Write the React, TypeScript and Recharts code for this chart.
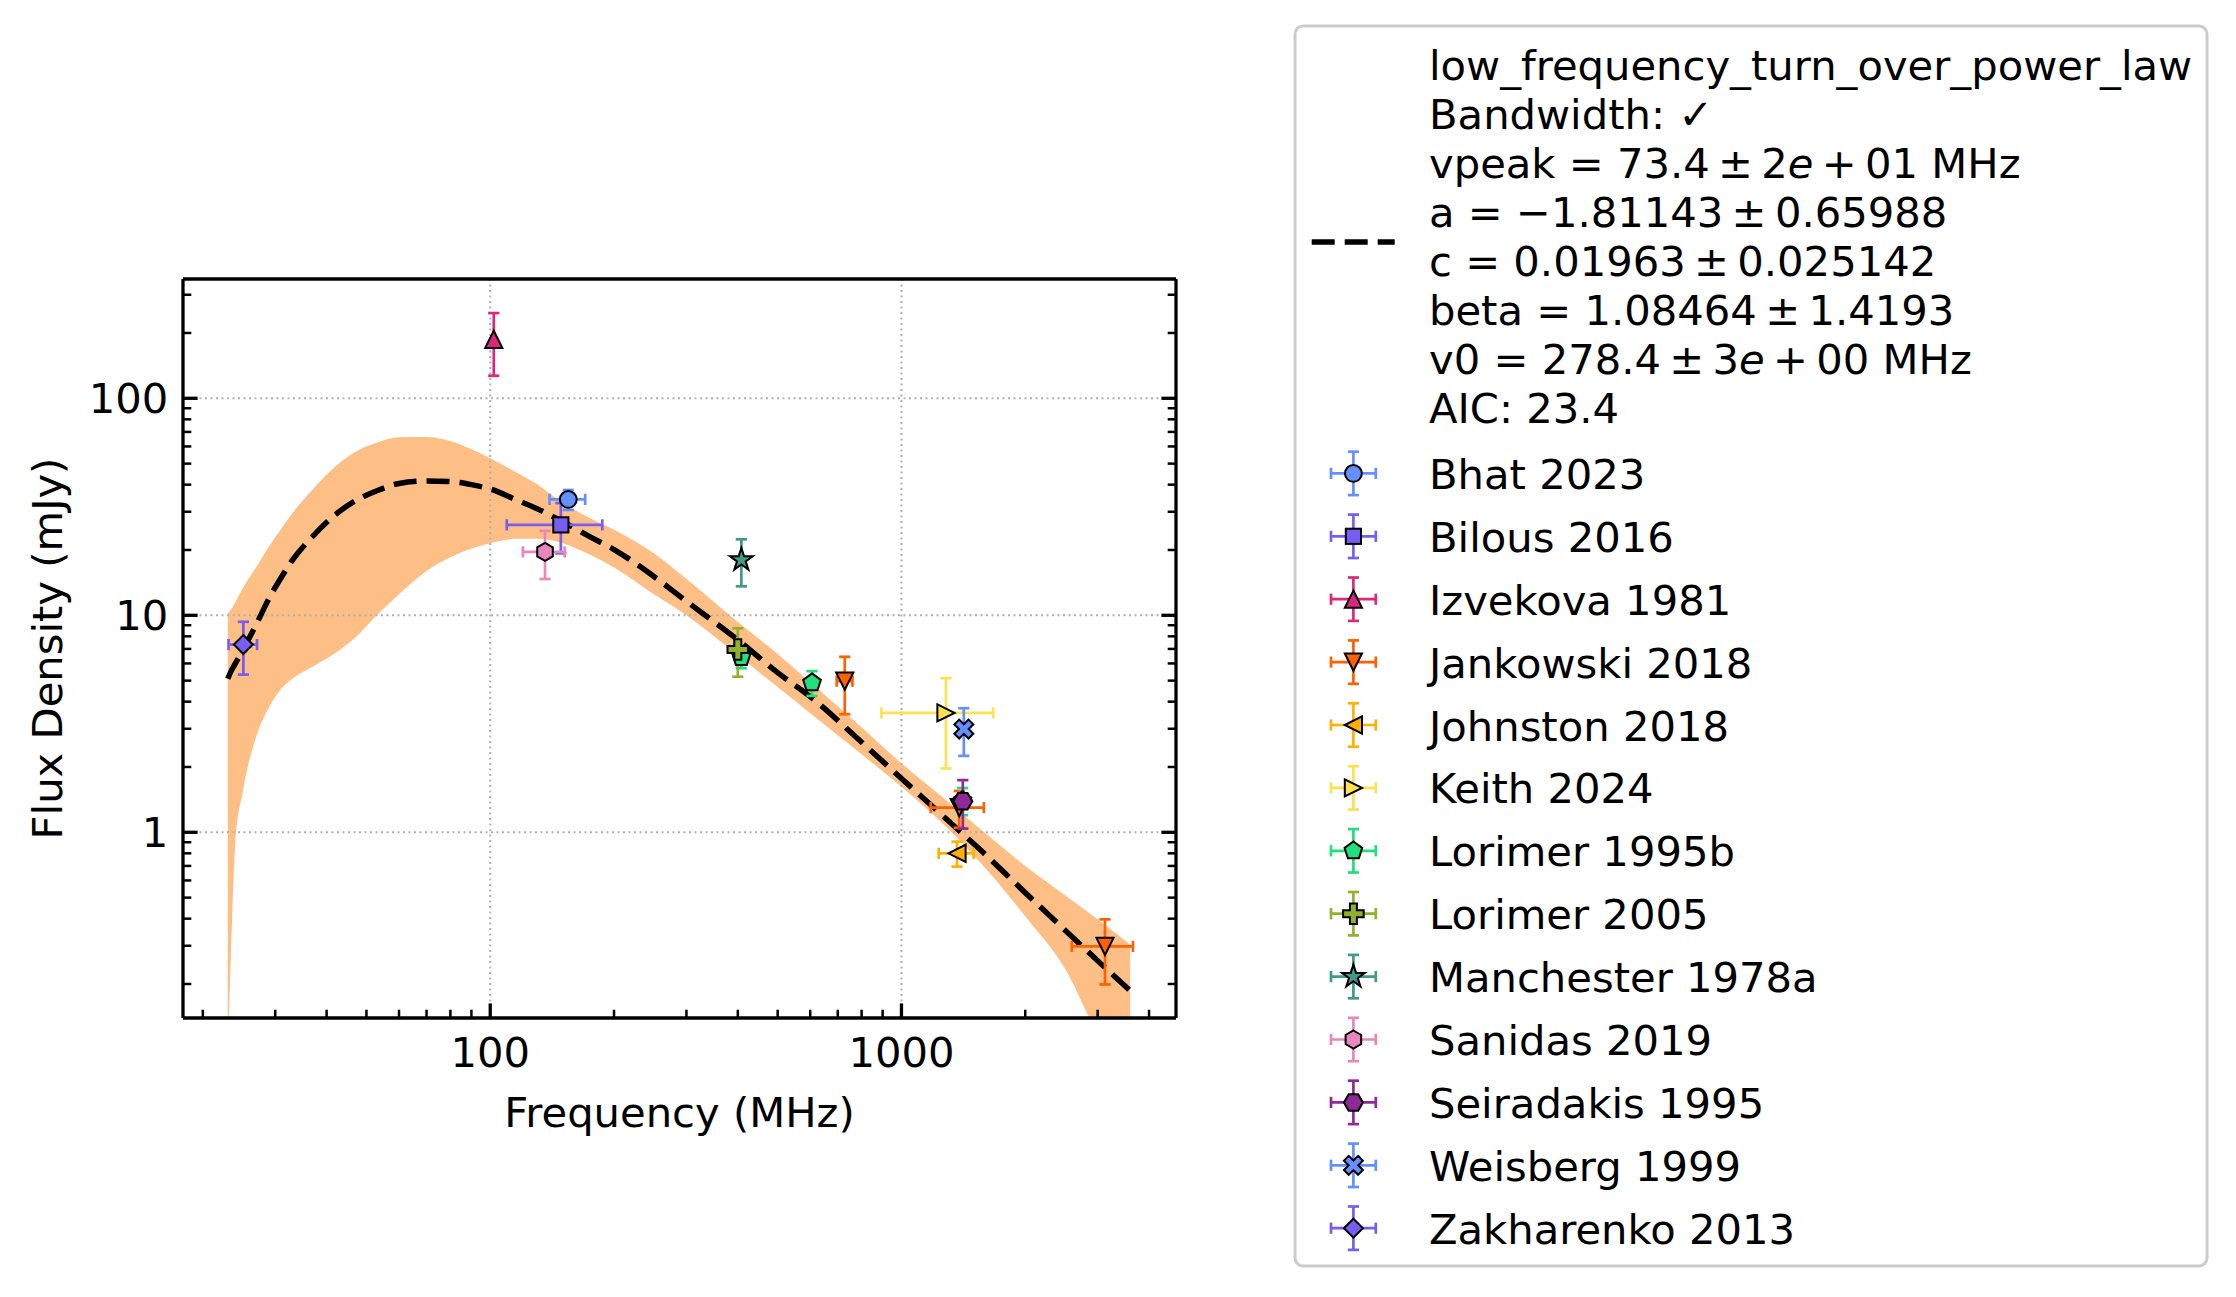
import React from 'react';
import {
  ComposedChart,
  Area,
  Line,
  Scatter,
  ErrorBar,
  XAxis,
  YAxis,
  ReferenceLine,
  Legend
} from 'recharts';

const FONT = '"DejaVu Sans", sans-serif';
const FS = 41.7;

// fitted model and its 1-sigma band (MHz, mJy)
const fitFreq = [23, 23.4, 24, 25, 27, 29, 31, 33, 37, 42, 47, 53, 60, 70, 80, 90, 100, 115, 130, 150, 175, 200, 250, 300, 400, 500, 600, 800, 1000, 1300, 1600, 2000, 2500, 3000, 3600];
const fitFlux = [5.1, 5.5, 6.0, 6.9, 9.1, 12.0, 14.9, 17.9, 23.1, 29.1, 33.7, 37.5, 40.5, 41.6, 41.3, 40.0, 38.2, 34.2, 31.0, 27.0, 23.0, 20.1, 15.1, 11.6, 7.7, 5.44, 4.22, 2.6, 1.77, 1.13, 0.79, 0.527, 0.354, 0.256, 0.186];
const bandLow = [0.1, 0.26, 0.9, 1.53, 2.77, 3.78, 4.57, 5.1, 5.8, 6.7, 7.9, 10.0, 12.5, 16.0, 18.5, 20.3, 21.5, 22.5, 22.5, 21.5, 19.0, 16.6, 12.5, 10.0, 6.54, 4.67, 3.54, 2.29, 1.62, 1.035, 0.683, 0.41, 0.235, 0.12, 0.085];
const bandHigh = [10.2, 10.6, 11.5, 13.3, 16.7, 20.8, 25.0, 29.5, 38.0, 48.5, 56.5, 62.5, 66.2, 66.4, 63.6, 58.2, 52.9, 45.9, 40.2, 33.0, 28.0, 24.8, 19.3, 14.7, 9.32, 6.64, 4.92, 3.05, 2.08, 1.38, 0.99, 0.70, 0.513, 0.397, 0.303];

// measurements: [freq (MHz), freq err, flux (mJy), flux err]
type Pt = [number, number, number, number];
const bhat2023: Pt[] = [[154.8, 15.4, 34.2, 3.6]];
const bilous2016: Pt[] = [[148.5, 38.8, 26.1, 6.8]];
const izvekova1981: Pt[] = [[102, 0, 187, 60]];
const jankowski2018: Pt[] = [[728, 32, 4.97, 1.47], [1382, 204, 1.3, 0.25], [3126, 530, 0.298, 0.099]];
const johnston2018: Pt[] = [[1365, 133, 0.8, 0.105]];
const keith2024: Pt[] = [[1283, 389, 3.55, 1.58]];
const lorimer1995b: Pt[] = [[408, 0, 6.4, 0.7], [606, 0, 4.89, 0.64], [1408, 0, 1.4, 0.2]];
const lorimer2005: Pt[] = [[400, 0, 6.96, 1.75]];
const manchester1978a: Pt[] = [[408, 0, 18.0, 4.4]];
const sanidas2019: Pt[] = [[135.9, 15.8, 19.6, 4.9]];
const seiradakis1995: Pt[] = [[1410, 0, 1.39, 0.35]];
const weisberg1999: Pt[] = [[1418, 0, 2.99, 0.74]];
const zakharenko2013: Pt[] = [[25.1, 2, 7.33, 2.0]];

const series = [
  { name: 'Bhat 2023', pts: bhat2023, color: '#648FFF', marker: 'o' },
  { name: 'Bilous 2016', pts: bilous2016, color: '#785EF0', marker: 's' },
  { name: 'Izvekova 1981', pts: izvekova1981, color: '#DC267F', marker: '^' },
  { name: 'Jankowski 2018', pts: jankowski2018, color: '#FE6100', marker: 'v' },
  { name: 'Johnston 2018', pts: johnston2018, color: '#FFB000', marker: '<' },
  { name: 'Keith 2024', pts: keith2024, color: '#FDE14F', marker: '>' },
  { name: 'Lorimer 1995b', pts: lorimer1995b, color: '#1FE07C', marker: 'p' },
  { name: 'Lorimer 2005', pts: lorimer2005, color: '#8FB12E', marker: 'P' },
  { name: 'Manchester 1978a', pts: manchester1978a, color: '#3E9A8A', marker: '*' },
  { name: 'Sanidas 2019', pts: sanidas2019, color: '#E887BB', marker: 'h' },
  { name: 'Seiradakis 1995', pts: seiradakis1995, color: '#8E2A96', marker: 'H' },
  { name: 'Weisberg 1999', pts: weisberg1999, color: '#648FFF', marker: 'X' },
  { name: 'Zakharenko 2013', pts: zakharenko2013, color: '#785EF0', marker: 'D' }
];

// math parts use thin spaces (mathtext spacing is tighter than a word space)
const fitText = [
  'low_frequency_turn_over_power_law',
  'Bandwidth: \u2713',
  'vpeak = 73.4\u2009\u00b1\u20092e\u2009+\u200901 MHz',
  'a = \u22121.81143\u2009\u00b1\u20090.65988',
  'c = 0.01963\u2009\u00b1\u20090.025142',
  'beta = 1.08464\u2009\u00b1\u20091.4193',
  'v0 = 278.4\u2009\u00b1\u20093e\u2009+\u200900 MHz',
  'AIC: 23.4'
];

const xTicks = [20, 30, 40, 50, 60, 70, 80, 90, 100, 200, 300, 400, 500, 600, 700, 800, 900, 1000, 2000, 3000, 4000];
const xMajor = [100, 1000];
const yTicks = [0.2, 0.3, 0.4, 0.5, 0.6, 0.7, 0.8, 0.9, 1, 2, 3, 4, 5, 6, 7, 8, 9, 10, 20, 30, 40, 50, 60, 70, 80, 90, 100, 200, 300];
const yMajor = [1, 10, 100];

const X_DOMAIN = [17.9, 4652];
const Y_DOMAIN = [0.1394, 354.6];

const curveRows = fitFreq.map((f, i) => ({ f, s: fitFlux[i], band: [bandLow[i], bandHigh[i]] }));

const poly = (pts: number[][]) => pts.map((p) => p.join(',')).join(' ');
const ring = (cx: number, cy: number, r: number, n: number, start: number) =>
  Array.from({ length: n }, (_, k) => {
    const a = ((start + (360 / n) * k) * Math.PI) / 180;
    return [cx + r * Math.cos(a), cy + r * Math.sin(a)];
  });

function Marker({ kind, cx, cy, fill }: { kind: string; cx: number; cy: number; fill: string }) {
  const common = { fill, stroke: '#000', strokeWidth: 2, strokeLinejoin: 'miter' as const };
  const t = 8.6;
  switch (kind) {
    case 'o':
      return <circle cx={cx} cy={cy} r={8.4} {...common} />;
    case 's':
      return <rect x={cx - 7.6} y={cy - 7.6} width={15.2} height={15.2} {...common} />;
    case '^':
      return <polygon points={poly([[cx, cy - t], [cx - t, cy + t], [cx + t, cy + t]])} {...common} />;
    case 'v':
      return <polygon points={poly([[cx, cy + t], [cx - t, cy - t], [cx + t, cy - t]])} {...common} />;
    case '<':
      return <polygon points={poly([[cx - t, cy], [cx + t, cy - t], [cx + t, cy + t]])} {...common} />;
    case '>':
      return <polygon points={poly([[cx + t, cy], [cx - t, cy - t], [cx - t, cy + t]])} {...common} />;
    case 'D':
      return <polygon points={poly([[cx, cy - 9.5], [cx + 9.5, cy], [cx, cy + 9.5], [cx - 9.5, cy]])} {...common} />;
    case 'p':
      return <polygon points={poly(ring(cx, cy, 9.3, 5, -90))} {...common} />;
    case 'h':
      return <polygon points={poly(ring(cx, cy, 9, 6, -90))} {...common} />;
    case 'H':
      return <polygon points={poly(ring(cx, cy, 9.5, 6, 0))} {...common} />;
    case '*': {
      const pts: number[][] = [];
      for (let k = 0; k < 10; k++) {
        const r = k % 2 === 0 ? 12 : 12 * 0.382;
        const a = ((-90 + 36 * k) * Math.PI) / 180;
        pts.push([cx + r * Math.cos(a), cy + r * Math.sin(a)]);
      }
      return <polygon points={poly(pts)} {...common} />;
    }
    case 'P':
    case 'X': {
      const r = kind === 'P' ? 10.3 : 10;
      const w = kind === 'P' ? 3.5 : 3.4;
      const base = [[-w, -r], [w, -r], [w, -w], [r, -w], [r, w], [w, w], [w, r], [-w, r], [-w, w], [-r, w], [-r, -w], [-w, -w]];
      const ang = kind === 'X' ? Math.PI / 4 : 0;
      const pts = base.map(([x, y]) => [
        cx + x * Math.cos(ang) - y * Math.sin(ang),
        cy + x * Math.sin(ang) + y * Math.cos(ang)
      ]);
      return <polygon points={poly(pts)} {...common} />;
    }
    default:
      return null;
  }
}

const tickLine = (major: boolean) => ({ stroke: '#000', strokeWidth: major ? 3.3 : 2.5 });
const tickLen = (major: boolean) => (major ? 14.6 : 8.3);
const textStyle = { fontFamily: FONT, fontSize: FS, fill: '#000' };

const BottomTick = (props: any) => {
  const { x, y, payload } = props;
  const major = xMajor.includes(payload.value);
  return (
    <g>
      <line x1={x} x2={x} y1={y} y2={y - tickLen(major)} {...tickLine(major)} />
      {major && (
        <text x={x} y={y + 49} textAnchor="middle" {...textStyle}>
          {payload.value}
        </text>
      )}
    </g>
  );
};

const TopTick = (props: any) => {
  const { x, y, payload } = props;
  const major = xMajor.includes(payload.value);
  return <line x1={x} x2={x} y1={y} y2={y + tickLen(major)} {...tickLine(major)} />;
};

const LeftTick = (props: any) => {
  const { x, y, payload } = props;
  const major = yMajor.includes(payload.value);
  return (
    <g>
      <line x1={x} x2={x + tickLen(major)} y1={y} y2={y} {...tickLine(major)} />
      {major && (
        <text x={x - 14.6} y={y + 15} textAnchor="end" {...textStyle}>
          {payload.value}
        </text>
      )}
    </g>
  );
};

const RightTick = (props: any) => {
  const { x, y, payload } = props;
  const major = yMajor.includes(payload.value);
  return <line x1={x} x2={x - tickLen(major)} y1={y} y2={y} {...tickLine(major)} />;
};

const XLabel = (props: any) => {
  const { x, y, width } = props.viewBox;
  return (
    <text x={x + width / 2} y={y + 109} textAnchor="middle" {...textStyle}>
      Frequency (MHz)
    </text>
  );
};

const YLabel = (props: any) => {
  const { y, height } = props.viewBox;
  const cy = y + height / 2;
  return (
    <text x={62} y={cy} transform={`rotate(-90 62 ${cy})`} textAnchor="middle" {...textStyle}>
      Flux Density (mJy)
    </text>
  );
};

const renderFitLine = (line: string) =>
  line.split(/(?<=\d)(e)(?=\u2009\+)/).map((part, i) =>
    part === 'e' ? (
      <tspan key={i} fontStyle="italic">
        e
      </tspan>
    ) : (
      <tspan key={i}>{part}</tspan>
    )
  );

const LegendBox = () => {
  const hx = 60.4;
  const tx = 136;
  return (
    <svg width={917} height={1245} style={{ display: 'block' }}>
      <rect x={2} y={2} width={912} height={1240} rx={8} ry={8} fill="#fff" fillOpacity={0.8} stroke="#cccccc" strokeWidth={3} />
      <line x1={18.7} x2={101.7} y1={218} y2={218} stroke="#000" strokeWidth={5.5} strokeDasharray="23 10" />
      {fitText.map((line, i) => (
        <text key={line} x={tx} y={56 + 49 * i} {...textStyle}>
          {renderFitLine(line)}
        </text>
      ))}
      {series.map((s, i) => {
        const cy = 449.4 + 62.9 * i;
        const ex = 22.4;
        const ey = 21.7;
        const cap = 5.6;
        const st = { stroke: s.color, strokeWidth: 2.7 };
        return (
          <g key={s.name}>
            <line x1={hx - ex} x2={hx + ex} y1={cy} y2={cy} {...st} />
            <line x1={hx - ex} x2={hx - ex} y1={cy - cap} y2={cy + cap} {...st} />
            <line x1={hx + ex} x2={hx + ex} y1={cy - cap} y2={cy + cap} {...st} />
            <line x1={hx} x2={hx} y1={cy - ey} y2={cy + ey} {...st} />
            <line x1={hx - cap} x2={hx + cap} y1={cy - ey} y2={cy - ey} {...st} />
            <line x1={hx - cap} x2={hx + cap} y1={cy + ey} y2={cy + ey} {...st} />
            <Marker kind={s.marker} cx={hx} cy={cy} fill={s.color} />
            <text x={tx} y={cy + 15.5} {...textStyle}>
              {s.name}
            </text>
          </g>
        );
      })}
    </svg>
  );
};

const axisLine = { stroke: '#000', strokeWidth: 3.3 };

export default function App() {
  return (
    <div style={{ position: 'absolute', left: 0, top: 0, background: '#fff' }}>
      <ComposedChart
        width={2236}
        height={1297}
        data={curveRows}
        margin={{ top: 278, right: 1059, bottom: 278, left: 182 }}
      >
        <XAxis
          dataKey="f"
          type="number"
          scale="log"
          domain={X_DOMAIN}
          allowDataOverflow
          ticks={xTicks}
          interval={0}
          tick={BottomTick}
          tickLine={false}
          tickSize={0}
          tickMargin={0}
          height={1}
          axisLine={axisLine}
          label={<XLabel />}
        />
        <XAxis
          xAxisId="top"
          orientation="top"
          type="number"
          scale="log"
          domain={X_DOMAIN}
          allowDataOverflow
          ticks={xTicks}
          interval={0}
          tick={TopTick}
          tickLine={false}
          tickSize={0}
          tickMargin={0}
          height={1}
          axisLine={axisLine}
        />
        <YAxis
          dataKey="s"
          type="number"
          scale="log"
          domain={Y_DOMAIN}
          allowDataOverflow
          ticks={yTicks}
          interval={0}
          tick={LeftTick}
          tickLine={false}
          tickSize={0}
          tickMargin={0}
          width={1}
          axisLine={axisLine}
          label={<YLabel />}
        />
        <YAxis
          yAxisId="right"
          orientation="right"
          type="number"
          scale="log"
          domain={Y_DOMAIN}
          allowDataOverflow
          ticks={yTicks}
          interval={0}
          tick={RightTick}
          tickLine={false}
          tickSize={0}
          tickMargin={0}
          width={1}
          axisLine={axisLine}
        />
        <Area
          dataKey="band"
          type="monotone"
          stroke="none"
          fill="#FEBF87"
          fillOpacity={1}
          dot={false}
          activeDot={false}
          isAnimationActive={false}
        />
        {xMajor.map((v) => (
          <ReferenceLine key={`gx${v}`} x={v} stroke="#b0b0b0" strokeWidth={2} strokeDasharray="2 3.5" />
        ))}
        {yMajor.map((v) => (
          <ReferenceLine key={`gy${v}`} y={v} stroke="#b0b0b0" strokeWidth={2} strokeDasharray="2 3.5" />
        ))}
        <Line
          dataKey="s"
          type="monotone"
          stroke="#000"
          strokeWidth={5.5}
          strokeDasharray="23 10"
          dot={false}
          activeDot={false}
          isAnimationActive={false}
        />
        {series.map((s) => {
          const rows = s.pts.map(([f, fErr, v, sErr]) => ({ f, fErr, s: v, sErr }));
          const hasX = s.pts.some((p) => p[1] > 0);
          return (
            <Scatter
              key={s.name}
              name={s.name}
              data={rows}
              fill={s.color}
              isAnimationActive={false}
              shape={(p: any) => <Marker kind={s.marker} cx={p.cx} cy={p.cy} fill={s.color} />}
            >
              {hasX && (
                <ErrorBar dataKey="fErr" direction="x" width={5.6} stroke={s.color} strokeWidth={2.7} />
              )}
              <ErrorBar dataKey="sErr" direction="y" width={5.6} stroke={s.color} strokeWidth={2.7} />
            </Scatter>
          );
        })}
        <Legend
          layout="vertical"
          align="center"
          verticalAlign="middle"
          wrapperStyle={{ left: 1293, top: 24, width: 917, height: 1245 }}
          content={() => <LegendBox />}
        />
      </ComposedChart>
    </div>
  );
}
